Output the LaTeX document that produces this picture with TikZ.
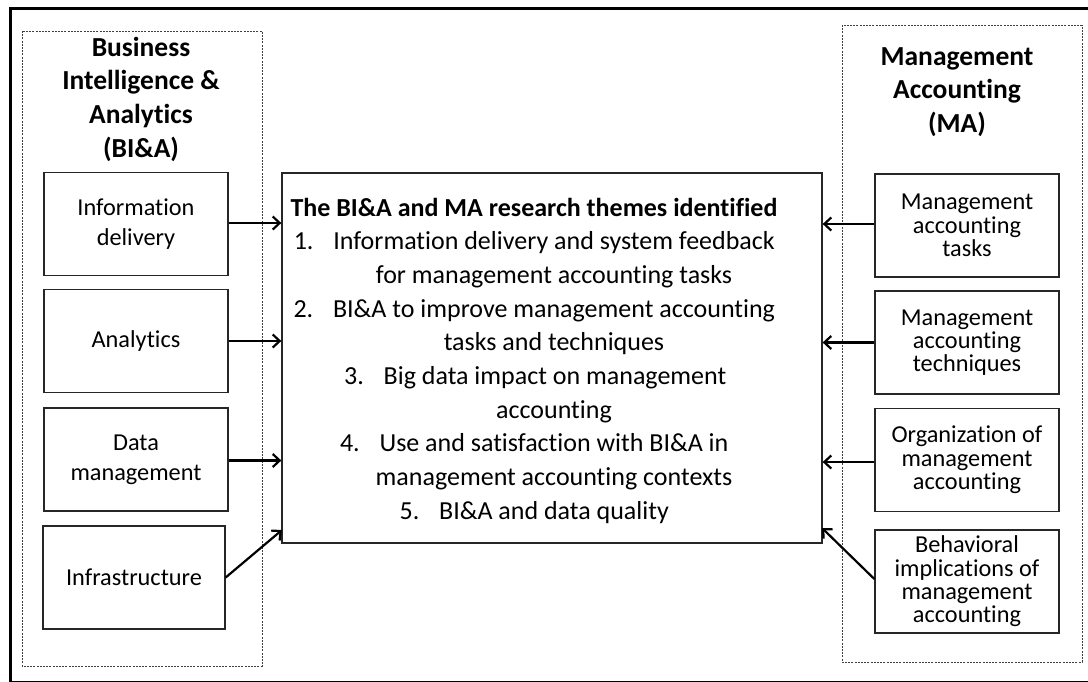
\documentclass[tikz,border=0pt]{standalone}
\usepackage{fontspec}
\setmainfont{Carlito}[Ligatures=NoCommon]
\usetikzlibrary{arrows.meta}
\begin{document}
\begin{tikzpicture}[x=1pt,y=-1pt,
 frame/.style={line width=3pt},
 group/.style={draw=black!75, line width=0.8pt, dash pattern=on 2pt off 1.2pt},
 item/.style={draw=black!85, line width=1.3pt, minimum width=184pt, minimum height=103pt, inner sep=0pt, align=center, font=\fontsize{24.3}{23.3}\selectfont},
 litem/.style={item, font=\fontsize{24.3}{30}\selectfont},
 central/.style={draw=black!85, line width=1.3pt, minimum width=540pt, minimum height=370pt, inner sep=0pt},
 ctext/.style={anchor=base, inner sep=0pt, font=\fontsize{26}{31}\selectfont},
 num/.style={anchor=base west, inner sep=0pt, font=\fontsize{26}{31}\selectfont},
 head/.style={anchor=base, inner sep=0pt, font=\fontsize{27.5}{33.7}\selectfont\bfseries},
 arr/.style={line width=2.2pt, -{Straight Barb[length=7pt,width=13pt]}}
]
\useasboundingbox (0,0) rectangle (1088,681);
\draw[frame] (10,8) rectangle (1104,682);
\draw[group] (22,31) rectangle (262,666);
\draw[group] (842,25) rectangle (1082,662);

\node[head] (lt) at (141,56) {\begin{tabular}[t]{@{}c@{}}Business\\Intelligence \&\\Analytics\\(BI\&A)\end{tabular}};
\node[head] (rt) at (957,65) {\begin{tabular}[t]{@{}c@{}}Management\\Accounting\\(MA)\end{tabular}};

\node[central] (c) at (552,358) {};

\node[litem] (l1) at (136,224) {Information\\delivery};
\node[litem] (l2) at (136,341) {Analytics};
\node[litem] (l3) at (136,459.5) {Data\\management};
\node[litem, minimum width=182pt] (l4) at (134,577.5) {Infrastructure};

\node[item] (r1) at (967,225.5) {Management\\accounting\\tasks};
\node[item] (r2) at (967,342.5) {Management\\accounting\\techniques};
\node[item] (r3) at (967,460) {Organization of\\management\\accounting};
\node[item] (r4) at (967,581.5) {Behavioral\\implications of\\management\\accounting};

\node[ctext, font=\fontsize{26}{31}\selectfont\bfseries] (t0) at (534,216) {The BI\&A and MA research themes identified};
\node[ctext] (t1) at (554,249.7) {Information delivery and system feedback};
\node[ctext] (t1b) at (554,283.4) {for management accounting tasks};
\node[ctext] (t2) at (554,317.1) {BI\&A to improve management accounting};
\node[ctext] (t2b) at (554,350.8) {tasks and techniques};
\node[ctext] (t3) at (555,384.5) {Big data impact on management};
\node[ctext] (t3b) at (554,418.2) {accounting};
\node[ctext] (t4) at (554,451.9) {Use and satisfaction with BI\&A in};
\node[ctext] (t4b) at (554,485.6) {management accounting contexts};
\node[ctext] (t5) at (554,519.3) {BI\&A and data quality};
\node[num] (n1) at ([xshift=-39.5pt]t1.base west) {1.};
\node[num] (n2) at ([xshift=-39.5pt]t2.base west) {2.};
\node[num] (n3) at ([xshift=-39.5pt]t3.base west) {3.};
\node[num] (n4) at ([xshift=-39.5pt]t4.base west) {4.};
\node[num] (n5) at ([xshift=-39.5pt]t5.base west) {5.};

\coordinate (cl4) at (282,530);
\coordinate (cr4) at (822,528);
\draw[arr] ([yshift=1pt]l1.east) -- ([yshift=1pt]l1.east -| c.west);
\draw[arr] (l2.east) -- (l2.east -| c.west);
\draw[arr] ([yshift=-1pt]l3.east) -- ([yshift=-1pt]l3.east -| c.west);
\draw[arr] (l4.east) -- (cl4);
\draw[arr] ([yshift=1.5pt]r1.west) -- ([yshift=1.5pt]r1.west -| c.east);
\draw[arr] (r2.west) -- (r2.west -| c.east);
\draw[arr] ([yshift=-2pt]r3.west) -- ([yshift=-2pt]r3.west -| c.east);
\draw[arr] ([yshift=2.5pt]r4.west) -- (cr4);
\end{tikzpicture}
\end{document}
